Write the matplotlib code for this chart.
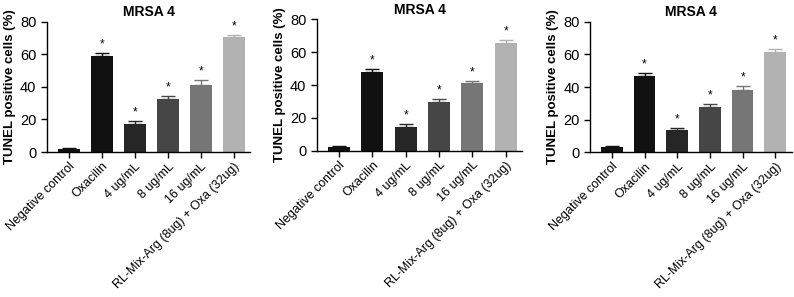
import matplotlib
matplotlib.use("Agg")
import matplotlib.pyplot as plt
import numpy as np

plt.rcParams['font.family'] = ['Liberation Sans', 'DejaVu Sans']

categories = ["Negative control", "Oxacilin", "4 ug/mL", "8 ug/mL", "16 ug/mL",
              "RL-Mix-Arg (8ug) + Oxa (32ug)"]
bar_colors = ["#111111", "#111111", "#262626", "#464646", "#767676", "#b2b2b2"]

panel1_vals = [2.0, 59.0, 17.5, 32.5, 41.0, 70.5]
panel1_err = [0.4, 2.0, 1.5, 2.0, 3.5, 1.2]
panel2_vals = [2.5, 48.0, 14.5, 29.5, 41.0, 65.5]
panel2_err = [0.4, 2.0, 1.8, 2.0, 1.5, 2.0]
panel3_vals = [3.5, 47.0, 13.5, 27.5, 38.0, 61.5]
panel3_err = [0.5, 1.6, 1.6, 2.0, 2.5, 2.0]
significant = [False, True, True, True, True, True]

panels = [
    (panel1_vals, panel1_err, [0.059, 0.488, 0.256, 0.439]),
    (panel2_vals, panel2_err, [0.399, 0.492, 0.259, 0.443]),
    (panel3_vals, panel3_err, [0.743, 0.487, 0.254, 0.440]),
]

fig = plt.figure(figsize=(7.94, 2.97), dpi=100)

for vals, errs, rect in panels:
    ax = fig.add_axes(rect)
    x = np.arange(len(categories))
    ax.bar(x, vals, width=0.66, color=bar_colors, zorder=2)
    for xi, v, e, c in zip(x, vals, errs, bar_colors):
        ax.errorbar(xi, v, yerr=[[0], [e]], fmt='none', ecolor=c,
                    elinewidth=1.0, capsize=5, capthick=1.0, zorder=3)
    for xi, v, e, s in zip(x, vals, errs, significant):
        if s:
            ax.text(xi, v + e + 1.5, "*", ha='center', va='bottom', fontsize=8.5)

    ax.set_xlim(-0.67, 5.5)
    ax.set_ylim(0, 80)
    ax.set_yticks([0, 20, 40, 60, 80])
    ax.set_xticks(x)
    ax.set_xticklabels(categories, rotation=45, ha='right', rotation_mode='anchor',
                       fontsize=9)
    ax.tick_params(axis='y', labelsize=10.5, length=4, width=1)
    ax.tick_params(axis='x', length=4, width=1, pad=2)
    ax.spines['top'].set_visible(False)
    ax.spines['right'].set_visible(False)
    ax.spines['left'].set_linewidth(1.0)
    ax.spines['bottom'].set_linewidth(1.0)
    ax.set_ylabel("TUNEL positive cells (%)", fontsize=9.5, fontweight='bold', labelpad=3)
    ax.set_title("MRSA 4", fontsize=10, fontweight='bold', pad=4)

fig.savefig("out.png", dpi=100)
